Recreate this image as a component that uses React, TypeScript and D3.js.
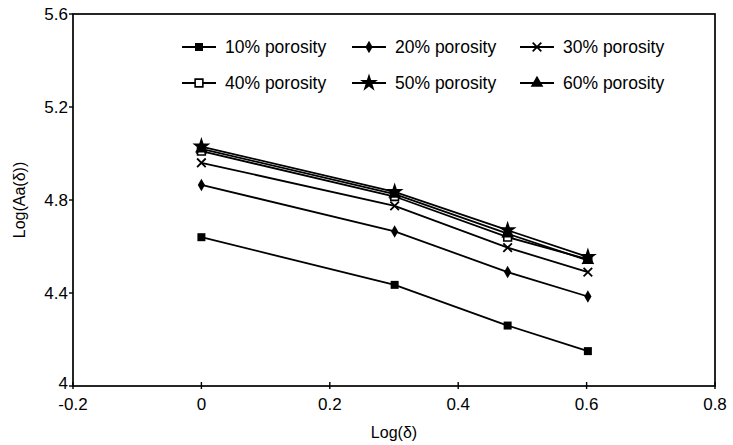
import * as React from 'react'
import {scaleLinear, line, symbol, symbolSquare, symbolDiamond, symbolTriangle, symbolStar, symbolTimes} from 'd3'

// log(delta) positions
const xValues = [0, 0.301, 0.477, 0.602]

const p10 = [4.64, 4.435, 4.26, 4.15]
const p20 = [4.865, 4.665, 4.49, 4.385]
const p30 = [4.96, 4.775, 4.595, 4.49]
const p40 = [5.01, 4.815, 4.64, 4.545]
const p50 = [5.03, 4.835, 4.67, 4.555]
const p60 = [5.02, 4.825, 4.655, 4.54]

const seriesNames = ['10% porosity', '20% porosity', '30% porosity', '40% porosity', '50% porosity', '60% porosity']
const seriesValues = [p10, p20, p30, p40, p50, p60]
const markerKinds = ['square', 'diamond', 'times', 'openSquare', 'star', 'triangle']

const xTicks = [-0.2, 0, 0.2, 0.4, 0.6, 0.8]
const yTicks = [4, 4.4, 4.8, 5.2, 5.6]

const W = 733
const H = 445
const left = 73
const right = 715
const top = 14
const bottom = 386

const x = scaleLinear().domain([-0.2, 0.8]).range([left, right])
const y = scaleLinear().domain([4, 5.6]).range([bottom, top])

const font = 'Liberation Sans, Arial, sans-serif'

function Marker({kind, cx, cy}: {kind: string, cx: number, cy: number}) {
  const t = `translate(${cx},${cy})`
  if (kind === 'square') return <path transform={t} d={symbol(symbolSquare, 64)()!} fill="#000" />
  if (kind === 'diamond') return <path transform={t} d={symbol(symbolDiamond, 45)()!} fill="#000" />
  if (kind === 'times') return <path transform={t} d={symbol(symbolTimes, 50)()!} fill="none" stroke="#000" strokeWidth={1.8} />
  if (kind === 'openSquare') return <path transform={t} d={symbol(symbolSquare, 60)()!} fill="#fff" stroke="#000" strokeWidth={1.6} />
  if (kind === 'star') return <path transform={t} d={symbol(symbolStar, 100)()!} fill="#000" />
  return <path transform={t} d={symbol(symbolTriangle, 70)()!} fill="#000" />
}

export default function App() {
  const path = line<number>().x((_, i) => x(xValues[i])).y(d => y(d))

  const legendCols = [182, 352, 520]
  const legendRows = [47, 83]

  return (
    <svg width={W} height={H} style={{position: 'absolute', left: 0, top: 0, background: '#fff'}} fontFamily={font}>
      <rect x={0} y={0} width={W} height={H} fill="#fff" />
      {/* frame */}
      <rect x={left} y={top} width={right - left} height={bottom - top} fill="none" stroke="#000" strokeWidth={1.7} />

      {/* y axis ticks */}
      {yTicks.map(t => (
        <g key={'y' + t}>
          <line x1={left - 4} x2={left} y1={y(t)} y2={y(t)} stroke="#000" strokeWidth={1.4} />
          <text x={left - 5} y={y(t) - (t === 4 ? 3 : 0)} dy="0.36em" textAnchor="end" fontSize={17}>{t}</text>
        </g>
      ))}

      {/* x axis ticks */}
      {xTicks.map(t => (
        <g key={'x' + t}>
          <line x1={x(t)} x2={x(t)} y1={bottom - 4} y2={bottom + 3} stroke="#000" strokeWidth={1.4} />
          <text x={x(t)} y={bottom + 24} textAnchor="middle" fontSize={17}>{t}</text>
        </g>
      ))}

      <text x={(left + right) / 2} y={438} textAnchor="middle" fontSize={16}>Log(δ)</text>
      <text transform={`translate(25,${(top + bottom) / 2}) rotate(-90)`} textAnchor="middle" fontSize={16}>Log(Aa(δ))</text>

      {/* series */}
      {seriesValues.map((vals, s) => (
        <g key={seriesNames[s]}>
          <path d={path(vals)!} fill="none" stroke="#000" strokeWidth={1.8} />
          {vals.map((v, i) => (
            <Marker key={i} kind={markerKinds[s]} cx={x(xValues[i])} cy={y(v)} />
          ))}
        </g>
      ))}

      {/* legend */}
      {seriesNames.map((name, s) => {
        const lx = legendCols[s % 3]
        const ly = legendRows[Math.floor(s / 3)]
        return (
          <g key={'l' + name}>
            <line x1={lx} x2={lx + 34} y1={ly} y2={ly} stroke="#000" strokeWidth={1.8} />
            <Marker kind={markerKinds[s]} cx={lx + 17} cy={ly} />
            <text x={lx + 43} y={ly} dy="0.36em" fontSize={17.5}>{name}</text>
          </g>
        )
      })}
    </svg>
  )
}
